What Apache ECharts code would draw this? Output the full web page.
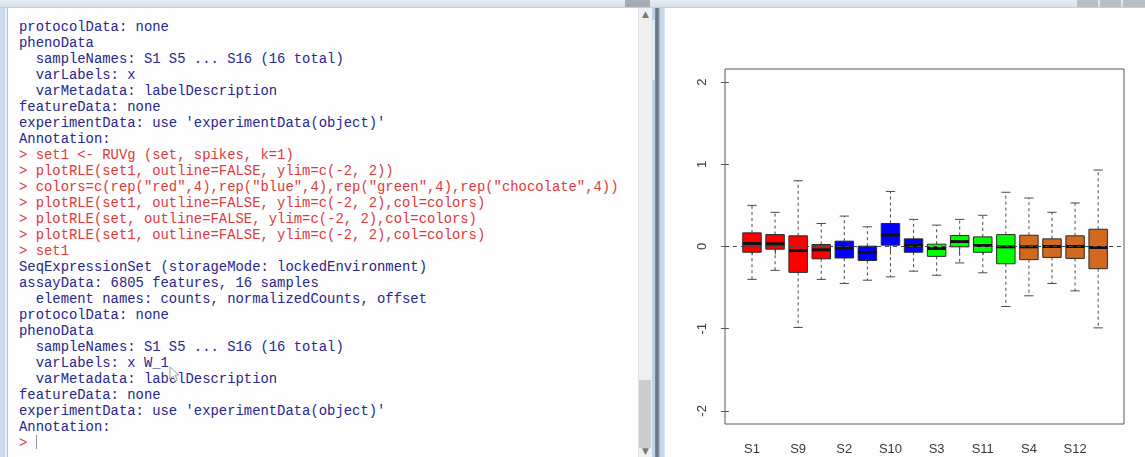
<!DOCTYPE html>
<html>
<head>
<meta charset="utf-8">
<title>plotRLE(set1)</title>
<script src="https://cdn.jsdelivr.net/npm/echarts@6/dist/echarts.min.js"></script>
<style>
  html, body { margin: 0; padding: 0; width: 1145px; height: 457px; overflow: hidden; background: #fdfdfd; }
  .abs { position: absolute; }
  #topbar { left: 0; top: 0; width: 1145px; height: 7px; background: linear-gradient(#e6edf4, #d6e1ec); border-bottom: 1px solid #c3cfdb; }
  #leftedge { left: 0; top: 8px; width: 5px; height: 449px; background: #c9dcef; border-right: 2px solid #e8eff7; }
  #leftline { left: 7px; top: 8px; width: 1px; height: 449px; background: #b3c3d3; }
  #console { left: 19px; top: 19px; margin: 0; font: 13.88px "Liberation Mono", "Courier New", monospace; line-height: 16px; white-space: pre; color: #28288a; }
  #console .in { color: #dc3b3b; }
  #console .cursor { display: inline-block; width: 1.5px; height: 14px; background: #8a96b4; vertical-align: -2px; }
  #scroll { left: 638px; top: 8px; width: 13px; height: 449px; background: #efefef; border-left: 1px solid #e2e2e2; }
  #thumb { left: 639px; top: 380px; width: 12px; height: 68px; background: #cdcdcd; }
  .arrow { font: 9px "DejaVu Sans", sans-serif; color: #7a7a7a; width: 13px; text-align: center; left: 639px; }
  #divider { left: 652px; top: 8px; width: 13px; height: 449px;
    background: linear-gradient(to right, #bcd3ea 0, #bcd3ea 3px, #7f8d9c 3px, #63707e 5px, #8796a6 7px, #c5d9ed 8px, #c5d9ed 12px, #e3ecf5 13px); }
  #divhl { left: 652px; top: 20px; width: 3px; height: 60px; background: #dceaf7; }
  #tabl { left: 625px; top: 0; width: 25px; height: 7px; background: #a3abb4; }
  .tabr { top: 0; height: 7px; background: #b7bec6; }
  #chart { left: 0; top: 0; width: 1145px; height: 457px; }
</style>
</head>
<body>
<div id="topbar" class="abs"></div>
<div id="tabl" class="abs"></div>
<div class="abs tabr" style="left:1077px;width:21px"></div>
<div class="abs tabr" style="left:1100px;width:21px"></div>
<div class="abs tabr" style="left:1123px;width:22px"></div>
<div id="leftedge" class="abs"></div>
<div id="leftline" class="abs"></div>
<pre id="console" class="abs"></pre>
<svg class="abs" style="left:169px;top:366px" width="12" height="16" viewBox="0 0 12 16">
  <path d="M1 1 L1 13 L4 10 L6.5 15 L8.5 14 L6 9 L10 9 Z" fill="#ffffff" stroke="#9aa3ad" stroke-width="1"/>
</svg>
<div id="scroll" class="abs"></div>
<div class="abs arrow" style="top:9px">&#9650;</div>
<div id="thumb" class="abs"></div>
<div class="abs arrow" style="top:446px">&#9660;</div>
<div id="divider" class="abs"></div>
<div id="divhl" class="abs"></div>
<div id="chart" class="abs"></div>
<script>
// Console transcript: [text, isInput]
const consoleLines = [
  ["protocolData: none", false],
  ["phenoData", false],
  ["  sampleNames: S1 S5 ... S16 (16 total)", false],
  ["  varLabels: x", false],
  ["  varMetadata: labelDescription", false],
  ["featureData: none", false],
  ["experimentData: use 'experimentData(object)'", false],
  ["Annotation:", false],
  ["> set1 <- RUVg (set, spikes, k=1)", true],
  ["> plotRLE(set1, outline=FALSE, ylim=c(-2, 2))", true],
  ["> colors=c(rep(\"red\",4),rep(\"blue\",4),rep(\"green\",4),rep(\"chocolate\",4))", true],
  ["> plotRLE(set1, outline=FALSE, ylim=c(-2, 2),col=colors)", true],
  ["> plotRLE(set, outline=FALSE, ylim=c(-2, 2),col=colors)", true],
  ["> plotRLE(set1, outline=FALSE, ylim=c(-2, 2),col=colors)", true],
  ["> set1", true],
  ["SeqExpressionSet (storageMode: lockedEnvironment)", false],
  ["assayData: 6805 features, 16 samples", false],
  ["  element names: counts, normalizedCounts, offset", false],
  ["protocolData: none", false],
  ["phenoData", false],
  ["  sampleNames: S1 S5 ... S16 (16 total)", false],
  ["  varLabels: x W_1", false],
  ["  varMetadata: labelDescription", false],
  ["featureData: none", false],
  ["experimentData: use 'experimentData(object)'", false],
  ["Annotation:", false]
];

// RLE boxplot statistics per sample (whisker ends, hinges, median)
const samples      = ["S1","S5","S9","S13","S2","S6","S10","S14","S3","S7","S11","S15","S4","S8","S12","S16"];
const lowerWhisker = [-0.40,-0.29,-0.985,-0.40,-0.45,-0.41,-0.37,-0.30,-0.35,-0.20,-0.32,-0.73,-0.60,-0.45,-0.54,-0.99];
const lowerHinge   = [-0.07,-0.033,-0.315,-0.15,-0.14,-0.17,0.016,-0.07,-0.12,-0.004,-0.07,-0.21,-0.16,-0.133,-0.145,-0.27];
const medians      = [0.036,0.033,-0.05,-0.04,-0.02,-0.073,0.14,0.012,-0.024,0.06,0.012,-0.004,-0.004,0.0,0.0,-0.012];
const upperHinge   = [0.166,0.145,0.13,0.024,0.065,0.004,0.28,0.093,0.028,0.133,0.117,0.145,0.137,0.093,0.13,0.21];
const upperWhisker = [0.50,0.416,0.80,0.28,0.37,0.24,0.67,0.33,0.26,0.33,0.38,0.66,0.59,0.416,0.53,0.93];
const groupColors  = ["#ff0000", "#0000ff", "#00ff00", "#d2691e"];
const yTicks       = [-2, -1, 0, 1, 2];

// console text
const pre = document.getElementById('console');
consoleLines.forEach(function (l) {
  const span = document.createElement('span');
  if (l[1]) span.className = 'in';
  span.textContent = l[0] + '\n';
  pre.appendChild(span);
});
const prompt = document.createElement('span');
prompt.className = 'in';
prompt.textContent = '> ';
pre.appendChild(prompt);
const cur = document.createElement('span');
cur.className = 'cursor';
pre.appendChild(cur);

// chart
const positions = samples.map(function (s, i) { return i + 1; });
const boxData = samples.map(function (s, i) {
  return [i + 1, lowerWhisker[i], lowerHinge[i], medians[i], upperHinge[i], upperWhisker[i]];
});
const ink = '#4a4a4a';
const textColor = '#3a3a3a';

const chart = echarts.init(document.getElementById('chart'), null, { renderer: 'canvas' });
chart.setOption({
  animation: false,
  backgroundColor: 'transparent',
  grid: { left: 725, top: 69, width: 399, height: 355, show: true, borderColor: '#5a5a5a', borderWidth: 1, backgroundColor: 'transparent' },
  xAxis: {
    type: 'value', min: -0.17, max: 17.12,
    splitLine: { show: false },
    axisLine: { show: false },
    axisTick: { show: true, length: 8, customValues: positions, lineStyle: { color: '#5a5a5a', width: 1 } },
    axisLabel: {
      customValues: positions.filter(function (v, i) { return i % 2 === 0; }),
      formatter: function (v) { return samples[Math.round(v) - 1]; },
      margin: 19, fontSize: 13, color: textColor, fontFamily: 'Liberation Sans, Arial, sans-serif'
    }
  },
  yAxis: {
    type: 'value', min: -2.16, max: 2.16,
    splitLine: { show: false },
    axisLine: { show: false },
    axisTick: { show: true, length: 8, customValues: yTicks, lineStyle: { color: '#5a5a5a', width: 1 } },
    axisLabel: {
      customValues: yTicks, rotate: 90, margin: 16,
      formatter: function (v) { return String(v); },
      fontSize: 13, color: textColor, fontFamily: 'Liberation Sans, Arial, sans-serif'
    }
  },
  series: [
    {
      type: 'custom',
      data: boxData,
      clip: true,
      renderItem: function (params, api) {
        const x = api.value(0);
        const lo = api.coord([x, api.value(1)]);
        const q1 = api.coord([x, api.value(2)]);
        const md = api.coord([x, api.value(3)]);
        const q3 = api.coord([x, api.value(4)]);
        const hi = api.coord([x, api.value(5)]);
        const half = api.size([0.8, 0])[0] / 2;
        const staple = half / 2;
        const cx = lo[0];
        const fill = groupColors[Math.floor(params.dataIndex / 4)];
        const dash = { stroke: ink, lineWidth: 1, lineDash: [3, 3] };
        const solid = { stroke: ink, lineWidth: 1 };
        return {
          type: 'group',
          children: [
            { type: 'line', shape: { x1: cx, y1: q3[1], x2: cx, y2: hi[1] }, style: dash },
            { type: 'line', shape: { x1: cx, y1: q1[1], x2: cx, y2: lo[1] }, style: dash },
            { type: 'line', shape: { x1: cx - staple, y1: hi[1], x2: cx + staple, y2: hi[1] }, style: solid },
            { type: 'line', shape: { x1: cx - staple, y1: lo[1], x2: cx + staple, y2: lo[1] }, style: solid },
            { type: 'rect', shape: { x: cx - half, y: q3[1], width: 2 * half, height: q1[1] - q3[1] },
              style: { fill: fill, stroke: '#2a2a2a', lineWidth: 1 } },
            { type: 'line', shape: { x1: cx - half, y1: md[1], x2: cx + half, y2: md[1] },
              style: { stroke: '#111111', lineWidth: 3 } }
          ]
        };
      }
    },
    {
      type: 'line',
      data: [],
      z: 5,
      markLine: {
        silent: true,
        symbol: 'none',
        label: { show: false },
        lineStyle: { color: '#444444', width: 1, type: [4, 4] },
        data: [{ yAxis: 0 }]
      }
    }
  ]
});
</script>
</body>
</html>
